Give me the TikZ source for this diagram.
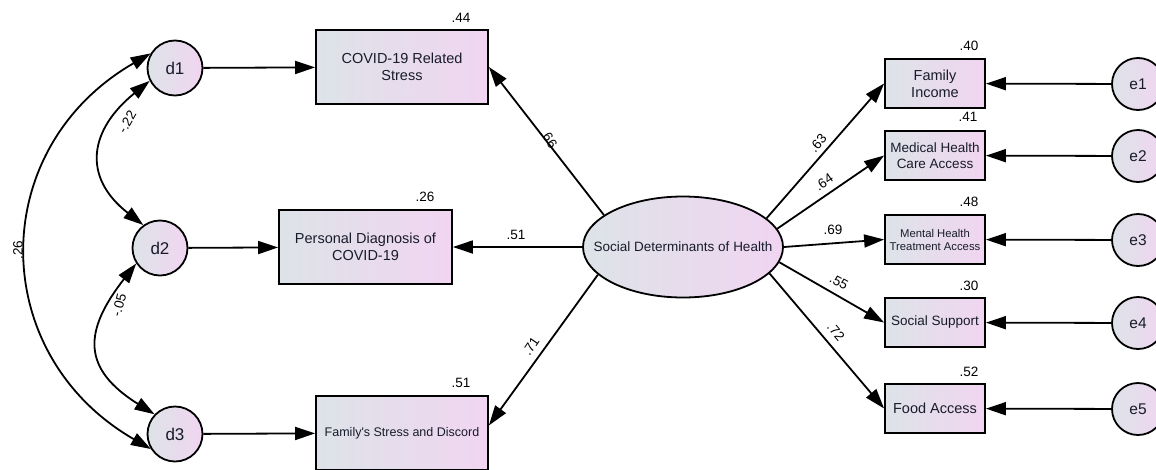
\documentclass[tikz,border=0pt]{standalone}
\usepackage{fontspec}
\setmainfont{Liberation Sans}
\usetikzlibrary{arrows.meta,shapes.geometric,calc}
\definecolor{fillL}{RGB}{221,227,232}
\definecolor{fillR}{RGB}{241,213,241}
\definecolor{txt}{RGB}{24,28,42}
\begin{document}
\begin{tikzpicture}[x=1pt,y=1pt,
  line width=1.8pt,
  arr/.style={-{Triangle[length=20pt,width=13pt]}},
  darr/.style={{Triangle[length=20pt,width=13pt]}-{Triangle[length=20pt,width=13pt]}},
  obs/.style={rectangle, draw, line width=1.8pt, left color=fillL, right color=fillR, text=txt, align=center, inner sep=0pt},
  lat/.style={circle, draw, line width=1.8pt, left color=fillL, right color=fillR, text=txt, inner sep=0pt},
  num/.style={text=black, font=\fontsize{13.5}{15}\selectfont, inner sep=1pt}
]
\fill[white] (0,0) rectangle (1156,-469);
\useasboundingbox (0,0) rectangle (1156,-469);

% error terms (left)
\node[lat, minimum size=55pt, font=\fontsize{17}{20}\selectfont] (d1) at (175,-68) {d1};
\node[lat, minimum size=55pt, font=\fontsize{17}{20}\selectfont] (d2) at (160,-248) {d2};
\node[lat, minimum size=55pt, font=\fontsize{17}{20}\selectfont] (d3) at (175,-434) {d3};

% outcome boxes
\node[obs, minimum width=172pt, minimum height=74pt, font=\fontsize{14.5}{17}\selectfont] (covid) at (402,-67) {COVID-19 Related\\Stress};
\node[obs, minimum width=173pt, minimum height=74pt, font=\fontsize{14.5}{17}\selectfont] (pers) at (365.5,-247) {Personal Diagnosis of\\COVID-19};
\node[obs, minimum width=172pt, minimum height=74pt, font=\fontsize{12.5}{15}\selectfont] (fam) at (402,-433) {Family\textquotesingle s Stress and Discord};

% latent
\node[ellipse, draw, line width=1.8pt, left color=fillL, right color=fillR, inner sep=0pt,
      minimum width=200pt, minimum height=101pt] (ell) at (683,-247) {};
\node[text=txt, inner sep=0pt, font=\fontsize{13.5}{16}\selectfont] (elltxt) at (ell.center) {Social Determinants of Health};

% indicator boxes
\node[obs, minimum width=100pt, minimum height=49pt, font=\fontsize{14.5}{17}\selectfont] (inc) at (935,-83.5) {Family\\Income};
\node[obs, minimum width=100pt, minimum height=49pt, font=\fontsize{13.5}{16}\selectfont] (med) at (935,-155.5) {Medical Health\\Care Access};
\node[obs, minimum width=100pt, minimum height=49pt, font=\fontsize{11.3}{13}\selectfont] (ment) at (935,-239.5) {Mental Health\\Treatment Access};
\node[obs, minimum width=100pt, minimum height=49pt, font=\fontsize{13.5}{16}\selectfont] (soc) at (935,-322.5) {Social Support};
\node[obs, minimum width=100pt, minimum height=49pt, font=\fontsize{14.5}{17}\selectfont] (food) at (935,-408.5) {Food Access};

% error terms (right)
\node[lat, minimum size=52pt, font=\fontsize{15.5}{18}\selectfont] (e1) at (1138,-84) {e1};
\node[lat, minimum size=52pt, font=\fontsize{15.5}{18}\selectfont] (e2) at (1138,-156) {e2};
\node[lat, minimum size=52pt, font=\fontsize{15.5}{18}\selectfont] (e3) at (1138,-240) {e3};
\node[lat, minimum size=52pt, font=\fontsize{15.5}{18}\selectfont] (e4) at (1138,-323) {e4};
\node[lat, minimum size=52pt, font=\fontsize{15.5}{18}\selectfont] (e5) at (1138,-409) {e5};

% R-squared
\node[num] (r1) at (461,-18) {.44};
\node[num] (r2) at (425,-197) {.26};
\node[num] (r3) at (461,-383) {.51};
\node[num] (r4) at (969,-46) {.40};
\node[num] (r5) at (968,-117) {.41};
\node[num] (r6) at (969,-202) {.48};
\node[num] (r7) at (969,-286) {.30};
\node[num] (r8) at (969,-372) {.52};

% paths
\draw[arr] (d1) -- (covid);
\draw[arr] (d2) -- (pers);
\draw[arr] (d3) -- (fam);
\draw[arr] (ell.158) -- (covid.east);
\draw[arr] (ell.west) -- (pers.east);
\draw[arr] (ell.198) -- (fam.5);
\draw[arr] (ell.19) -- (inc.west);
\draw[arr] (ell.11) -- (med.west);
\draw[arr] (ell.east) -- (ment.west);
\draw[arr] (ell.351) -- (soc.west);
\draw[arr] (ell.343) -- (food.west);
\draw[arr] (e1) -- (inc);
\draw[arr] (e2) -- (med);
\draw[arr] (e3) -- (ment);
\draw[arr] (e4) -- (soc);
\draw[arr] (e5) -- (food);

% covariances
\draw[darr] (d1.207) .. controls +(219:78) and +(142:78) .. (d2.126);
\draw[darr] (d2.213) .. controls +(232:86) and +(148:86) .. (d3.136);
\draw[darr] (d1.149) .. controls +(210:190) and +(150:190) .. (d3.212);

% path coefficients
\node[num, rotate=-56] (p1) at (549,-139) {.66};
\node[num] (p2) at (516,-235) {.51};
\node[num, rotate=56] (p3) at (531,-346) {.71};
\node[num, rotate=49] (p4) at (818,-143) {.63};
\node[num, rotate=34] (p5) at (824,-182) {.64};
\node[num] (p6) at (833,-230) {.69};
\node[num, rotate=-29] (p7) at (839,-282) {.55};
\node[num, rotate=-50] (p8) at (836,-332) {.72};
\node[num, rotate=60] (c1) at (127,-122) {-.22};
\node[num, rotate=75] (c2) at (119,-305) {-.05};
\node[num, rotate=90] (c3) at (18,-250) {.26};
\end{tikzpicture}
\end{document}
